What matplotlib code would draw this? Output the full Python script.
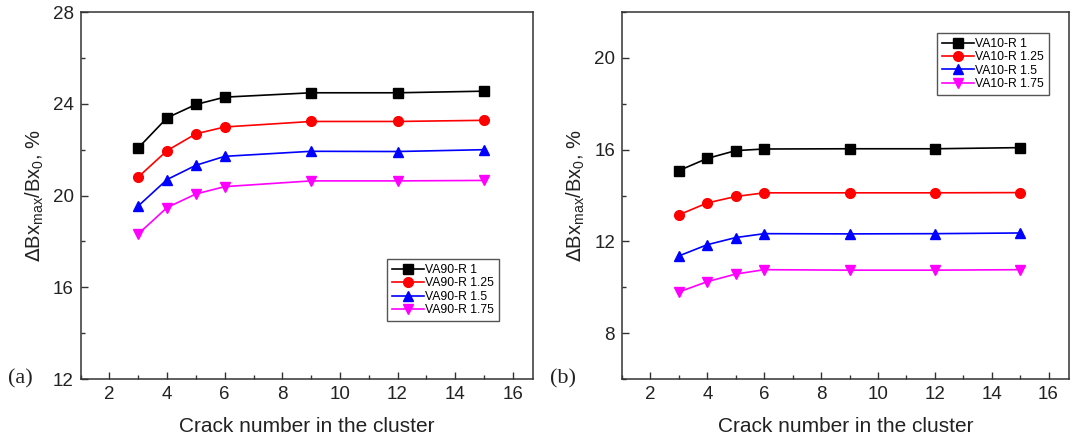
import matplotlib
matplotlib.use('Agg')
import matplotlib.pyplot as plt
from matplotlib.ticker import MultipleLocator

# crack numbers
cracks = [3, 4, 5, 6, 9, 12, 15]

# panel (a) VA90
va90_r1 = [22.08, 23.39, 23.97, 24.29, 24.48, 24.48, 24.55]
va90_r125 = [20.81, 21.96, 22.69, 22.99, 23.23, 23.23, 23.28]
va90_r15 = [19.55, 20.70, 21.32, 21.71, 21.93, 21.92, 22.00]
va90_r175 = [18.33, 19.48, 20.07, 20.39, 20.64, 20.64, 20.66]

# panel (b) VA10
va10_r1 = [15.09, 15.62, 15.96, 16.03, 16.04, 16.04, 16.09]
va10_r125 = [13.16, 13.68, 13.96, 14.12, 14.12, 14.12, 14.13]
va10_r15 = [11.37, 11.86, 12.17, 12.34, 12.33, 12.34, 12.37]
va10_r175 = [9.80, 10.25, 10.58, 10.77, 10.75, 10.75, 10.77]

radii = ['1', '1.25', '1.5', '1.75']
colors = ['black', 'red', 'blue', 'magenta']
markers = ['s', 'o', '^', 'v']

plt.rcParams['font.family'] = ['Liberation Sans', 'DejaVu Sans']

fig = plt.figure(figsize=(10.73, 4.45), dpi=100)
ax1 = fig.add_axes([0.0752, 0.148, 0.422, 0.825])
ax2 = fig.add_axes([0.5797, 0.148, 0.4166, 0.825])

panels = [
    (ax1, 'VA90', [va90_r1, va90_r125, va90_r15, va90_r175], (12, 28), '(a)',
     (0.923, 0.158), 'lower right'),
    (ax2, 'VA10', [va10_r1, va10_r125, va10_r15, va10_r175], (6, 22), '(b)',
     (0.955, 0.943), 'upper right'),
]

for ax, name, series, ylim, tag, anchor, loc in panels:
    for vals, r, c, m in zip(series, radii, colors, markers):
        ax.plot(cracks, vals, color=c, marker=m, markersize=7, linewidth=1.2,
                label=f'{name}-R {r}')
    ax.set_xlim(1, 16.72)
    ax.set_ylim(*ylim)
    ax.xaxis.set_major_locator(MultipleLocator(2))
    ax.xaxis.set_minor_locator(MultipleLocator(1))
    ax.yaxis.set_major_locator(MultipleLocator(4))
    ax.yaxis.set_minor_locator(MultipleLocator(2))
    ax.tick_params(which='both', direction='in', top=False, right=False,
                   labelsize=13.5, colors='#333333', labelcolor='#222222')
    ax.tick_params(which='major', length=5, width=1, pad=5)
    ax.tick_params(which='minor', length=3, width=1)
    for sp in ax.spines.values():
        sp.set_color('#333333')
        sp.set_linewidth(1.1)
    ax.set_xlabel('Crack number in the cluster', fontsize=15, labelpad=10,
                  color='#222222')
    ax.set_ylabel(r'$\Delta$Bx$_{\mathregular{max}}$/Bx$_{\mathregular{0}}$, %',
                  fontsize=14.5, labelpad=5, color='#222222')
    ax.text(-0.16, 0.0, tag, transform=ax.transAxes, fontsize=16,
            family=['Liberation Serif'], ha='left', va='center', color='#222222')
    ax.legend(fontsize=8.8, handlelength=2.6, borderaxespad=0, loc=loc,
              bbox_to_anchor=anchor, fancybox=False, framealpha=1,
              edgecolor='#555555', labelspacing=0.12, handletextpad=0.1,
              borderpad=0.4)

fig.savefig('out.png', dpi=100)
